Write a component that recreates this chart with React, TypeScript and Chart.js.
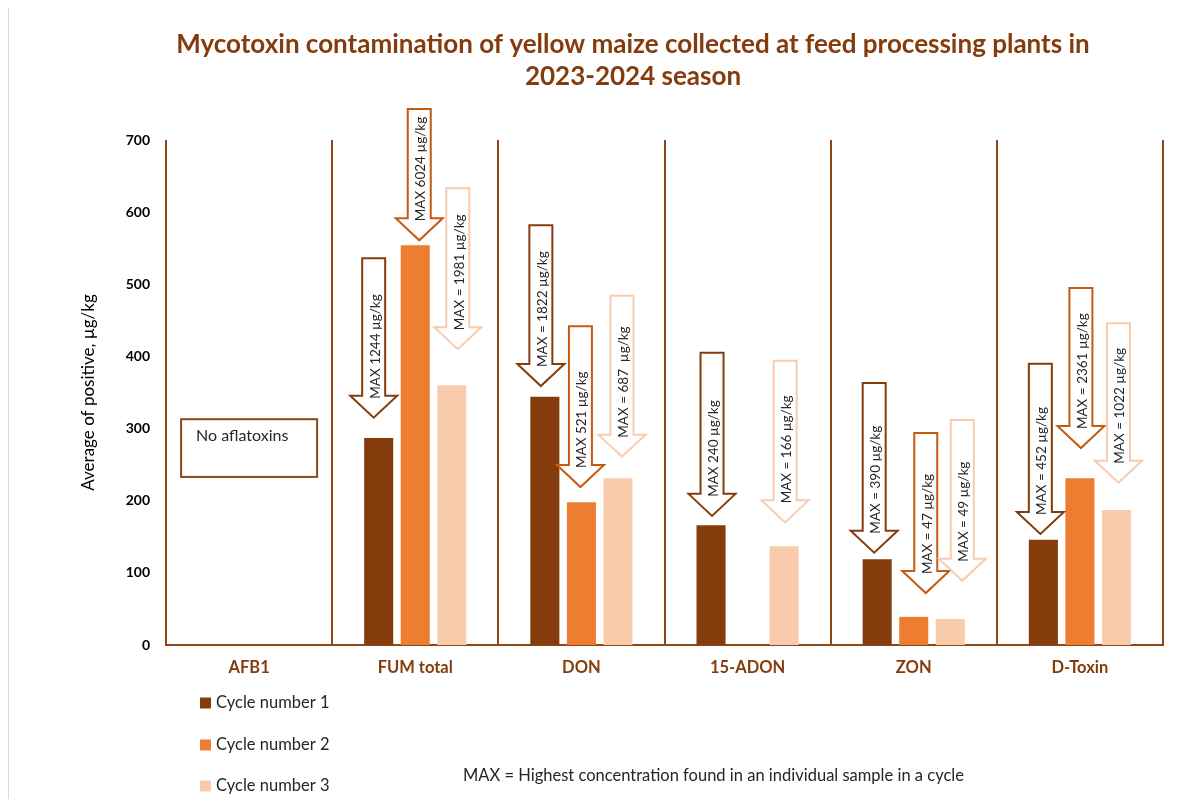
import React, { useEffect, useRef } from "react";
import { Chart, registerables } from "chart.js";

Chart.register(...registerables);

// Mycotoxin categories and average positive concentrations (µg/kg) per sampling cycle
const categories = ["AFB1", "FUM total", "DON", "15-ADON", "ZON", "D-Toxin"];
const cycle1 = [0, 287, 344, 166, 119, 146];
const cycle2 = [0, 554, 198, 0, 39, 231];
const cycle3 = [0, 360, 231, 137, 36, 187];
const seriesLabels = ["Cycle number 1", "Cycle number 2", "Cycle number 3"];

// Highest individual sample per cycle, shown in the down arrows
const maxCycle1 = [null, "MAX 1244 µg/kg", "MAX = 1822 µg/kg", "MAX 240 µg/kg", "MAX = 390 µg/kg", "MAX = 452 µg/kg"];
const maxCycle2 = [null, "MAX 6024 µg/kg", "MAX 521 µg/kg", null, "MAX = 47 µg/kg", "MAX = 2361 µg/kg"];
const maxCycle3 = [null, "MAX = 1981 µg/kg", "MAX = 687  µg/kg", "MAX = 166 µg/kg", "MAX = 49 µg/kg", "MAX = 1022 µg/kg"];

// Arrow placement on the value axis (top of shaft, tip) and horizontal nudge in px
const arrowTop = [
  [null, 536, 582, 405, 363, 390],
  [null, 743, 442, null, 294, 495],
  [null, 633, 484, 394, 312, 446],
];
const arrowTip = [
  [null, 315, 359, 179, 128, 154],
  [null, 561, 219, null, 72, 273],
  [null, 410, 261, 170, 89, 225],
];
const arrowShift = [
  [0, -5, -4, 1, -3, -3],
  [0, 4, -1, 0, 12, 1],
  [0, 6, 4, 1, 12, 2],
];

const BROWN = "#843C0C";
const ORANGE = "#ED7D31";
const PEACH = "#F8CBAD";
const FRAME = "#8E4719";
const arrowStroke = [BROWN, "#C55A11", "#F8CBAD"];

const TITLE = ["Mycotoxin contamination of yellow maize collected at feed processing plants in", "2023-2024 season"];
const NOTE = "MAX = Highest concentration found in an individual sample in a cycle";
const NO_AFLA = "No aflatoxins";

const annotations = {
  id: "annotations",
  afterDatasetsDraw(chart: any) {
    const { ctx } = chart;
    const x = chart.scales.x;
    const y = chart.scales.y;
    const labels = [maxCycle1, maxCycle2, maxCycle3];

    // block arrows with rotated MAX labels
    labels.forEach((row, di) => {
      const meta = chart.getDatasetMeta(di);
      row.forEach((txt, j) => {
        if (!txt) return;
        const bar = meta.data[j];
        const cx = bar.x + arrowShift[di][j];
        const yTop = y.getPixelForValue(arrowTop[di][j]);
        const yTip = y.getPixelForValue(arrowTip[di][j]);
        const head = 22;
        const base = yTip - head;
        const sw = 11.5;
        const hw = 23.5;
        ctx.save();
        ctx.beginPath();
        ctx.moveTo(cx - sw, yTop);
        ctx.lineTo(cx + sw, yTop);
        ctx.lineTo(cx + sw, base);
        ctx.lineTo(cx + hw, base);
        ctx.lineTo(cx, yTip);
        ctx.lineTo(cx - hw, base);
        ctx.lineTo(cx - sw, base);
        ctx.closePath();
        ctx.fillStyle = "#FFFFFF";
        ctx.fill();
        ctx.lineWidth = 2;
        ctx.lineJoin = "miter";
        ctx.strokeStyle = arrowStroke[di];
        ctx.stroke();
        ctx.translate(cx + 1.5, base + 3);
        ctx.rotate(-Math.PI / 2);
        ctx.fillStyle = "#262626";
        ctx.font = "13.5px Lato";
        ctx.textAlign = "left";
        ctx.textBaseline = "middle";
        ctx.fillText(txt, 0, 0);
        ctx.restore();
      });
    });

    // "No aflatoxins" note box in the AFB1 column
    const bx = x.getPixelForValue(0);
    const left = bx - 68;
    const top = y.getPixelForValue(313);
    const bottom = y.getPixelForValue(233);
    ctx.save();
    ctx.fillStyle = "#FFFFFF";
    ctx.fillRect(left, top, 136, bottom - top);
    ctx.strokeStyle = FRAME;
    ctx.lineWidth = 2;
    ctx.strokeRect(left, top, 136, bottom - top);
    ctx.fillStyle = "#262626";
    ctx.font = "16px Lato";
    ctx.textAlign = "left";
    ctx.textBaseline = "middle";
    ctx.fillText(NO_AFLA, left + 15, y.getPixelForValue(290));
    ctx.restore();
  },
  afterDraw(chart: any) {
    const { ctx, height } = chart;
    ctx.save();
    // chart border
    ctx.strokeStyle = "#D9D9D9";
    ctx.lineWidth = 1;
    ctx.beginPath();
    ctx.moveTo(0.5, 0);
    ctx.lineTo(0.5, height);
    ctx.stroke();

    // title
    ctx.fillStyle = BROWN;
    ctx.font = "bold 26px Lato";
    ctx.textAlign = "center";
    ctx.textBaseline = "middle";
    ctx.fillText(TITLE[0], 625, 37);
    ctx.fillText(TITLE[1], 625, 69);

    // legend, stacked vertically at bottom left
    const rows = [695, 737, 778];
    chart.data.datasets.forEach((ds: any, i: number) => {
      ctx.fillStyle = ds.backgroundColor;
      ctx.fillRect(192, rows[i] - 5.5, 11, 11);
      ctx.fillStyle = "#262626";
      ctx.font = "16.5px Lato";
      ctx.textAlign = "left";
      ctx.textBaseline = "middle";
      ctx.fillText(ds.label, 208, rows[i]);
    });

    // footnote
    ctx.fillStyle = "#262626";
    ctx.font = "16.5px Lato";
    ctx.textAlign = "left";
    ctx.textBaseline = "middle";
    ctx.fillText(NOTE, 455, 768);
    ctx.restore();
  },
};

export default function App() {
  const canvasRef = useRef<HTMLCanvasElement | null>(null);

  useEffect(() => {
    if (!canvasRef.current) return;
    const chart = new Chart(canvasRef.current, {
      type: "bar",
      data: {
        labels: categories,
        datasets: [
          { label: seriesLabels[0], data: cycle1, backgroundColor: BROWN },
          { label: seriesLabels[1], data: cycle2, backgroundColor: ORANGE },
          { label: seriesLabels[2], data: cycle3, backgroundColor: PEACH },
        ],
      },
      options: {
        responsive: false,
        animation: false,
        events: [],
        datasets: { bar: { categoryPercentage: 0.66, barPercentage: 0.795, borderWidth: 0 } },
        layout: { padding: { top: 132, bottom: 114, left: 0, right: 24 } },
        plugins: { legend: { display: false }, title: { display: false }, tooltip: { enabled: false } },
        scales: {
          x: {
            grid: { display: true, offset: true, color: FRAME, lineWidth: 2, drawTicks: false },
            border: { display: true, color: FRAME, width: 2 },
            ticks: { color: BROWN, font: { family: "Lato", size: 16.5, weight: "bold" }, padding: 13 },
            afterFit: (scale: any) => {
              scale.height = 40;
            },
          },
          y: {
            min: 0,
            max: 700,
            grid: { display: false, drawTicks: false },
            border: { display: false },
            ticks: { stepSize: 100, color: "#000000", font: { family: "Lato", size: 14, weight: "bold" }, padding: 16 },
            title: {
              display: true,
              text: "Average of positive, µg/kg",
              color: "#000000",
              font: { family: "Lato", size: 17 },
              padding: { top: 70, bottom: 0 },
            },
            afterFit: (scale: any) => {
              scale.width = 158;
            },
          },
        },
      },
      plugins: [annotations],
    });
    return () => chart.destroy();
  }, []);

  return (
    <div style={{ width: 1179, height: 791 }}>
      <canvas ref={canvasRef} width={1179} height={791} style={{ display: "block" }} />
    </div>
  );
}
